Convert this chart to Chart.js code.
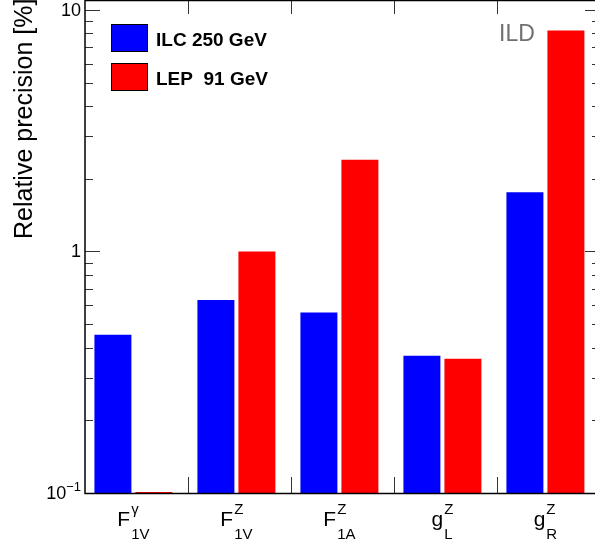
<!DOCTYPE html>
<html>
<head>
<meta charset="utf-8">
<script src="https://cdn.jsdelivr.net/npm/chart.js@4.4.0/dist/chart.umd.min.js"></script>
<style>
  html, body { margin: 0; padding: 0; background: #fff; overflow: hidden; }
  #wrap { width: 595px; height: 545px; overflow: hidden; position: relative; }
  #c { position: absolute; left: 0; top: 0; }
</style>
</head>
<body>
<div id="wrap"><canvas id="c"></canvas></div>
<script>
// category labels: main symbol, superscript, subscript
const labelMain = ['F', 'F', 'F', 'g', 'g'];
const labelSup = ['γ', 'Z', 'Z', 'Z', 'Z'];
const labelSub = ['1V', '1V', '1A', 'L', 'R'];

// relative precision in %
const ilc250 = [0.452, 0.630, 0.559, 0.370, 1.76];
const lep91 = [0.101, 1.0, 2.40, 0.360, 8.22];

const seriesNames = ['ILC 250 GeV', 'LEP  91 GeV'];
const seriesColors = ['#0000ff', '#ff0000'];

const yDecades = [0.1, 1, 10];
const yDecadeLabels = [['10', '−1'], ['1', ''], ['10', '']];

const FONT = '"Liberation Sans", Arial, Helvetica, sans-serif';

const rootStyle = {
  id: 'rootStyle',
  afterDatasetsDraw(chart) {
    const ctx = chart.ctx;
    const ca = chart.chartArea;
    const xs = chart.scales.x, ys = chart.scales.y;
    ctx.save();

    // y ticks (left and right, pointing inward)
    ctx.strokeStyle = '#333';
    ctx.lineWidth = 1;
    ctx.beginPath();
    yDecades.forEach(d => {
      for (let k = 1; k <= 9; k++) {
        const v = d * k;
        if (v > ys.max) break;
        const y = Math.round(ys.getPixelForValue(v)) + 0.5;
        const len = k === 1 ? 15 : 8;
        ctx.moveTo(ca.left, y); ctx.lineTo(ca.left + len, y);
        ctx.moveTo(ca.right, y); ctx.lineTo(ca.right - len, y);
      }
    });
    // x ticks at bin edges (bottom and top)
    for (let i = 0; i < labelMain.length - 1; i++) {
      const x = Math.round(xs.getPixelForValue(i + 0.53)) + 0.5;
      ctx.moveTo(x, ca.bottom); ctx.lineTo(x, ca.bottom - 16);
      ctx.moveTo(x, ca.top); ctx.lineTo(x, ca.top + 14);
    }
    ctx.stroke();

    // frame
    ctx.strokeStyle = '#000';
    ctx.lineWidth = 1.5;
    ctx.strokeRect(ca.left, ca.top + 0.5, ca.right - ca.left, ca.bottom - ca.top);

    // y tick labels
    ctx.fillStyle = '#000';
    ctx.textBaseline = 'middle';
    ctx.textAlign = 'right';
    yDecades.forEach((d, i) => {
      const y = ys.getPixelForValue(d);
      const [base, exp] = yDecadeLabels[i];
      let right = ca.left - 4;
      if (exp) {
        ctx.font = '13px ' + FONT;
        ctx.fillText(exp, right, y - 6);
        right -= ctx.measureText(exp).width;
      }
      ctx.font = '18px ' + FONT;
      ctx.fillText(base, right, y + 1);
    });

    // x category labels with super/subscripts
    ctx.textAlign = 'left';
    ctx.textBaseline = 'alphabetic';
    labelMain.forEach((m, i) => {
      ctx.font = '21px ' + FONT;
      const wm = ctx.measureText(m).width;
      ctx.font = '15px ' + FONT;
      const ws = Math.max(ctx.measureText(labelSup[i]).width, ctx.measureText(labelSub[i]).width);
      const cx = xs.getPixelForValue(i);
      const x0 = cx - (wm + 1 + ws) / 2;
      ctx.font = '21px ' + FONT;
      ctx.fillText(m, x0, 526);
      ctx.font = '15px ' + FONT;
      ctx.fillText(labelSup[i], x0 + wm + 1, 514);
      ctx.fillText(labelSub[i], x0 + wm + 1, 539);
    });

    // legend
    chart.data.datasets.forEach((ds, i) => {
      const top = 24 + i * 39;
      ctx.fillStyle = ds.backgroundColor;
      ctx.fillRect(111, top, 37, 27);
      ctx.strokeStyle = '#000';
      ctx.lineWidth = 1;
      ctx.strokeRect(111.5, top + 0.5, 36, 27);
      ctx.fillStyle = '#000';
      ctx.font = 'bold 19px ' + FONT;
      ctx.fillText(ds.label, 156, top + 22);
    });

    // ILD tag
    ctx.fillStyle = '#707070';
    ctx.font = '23px ' + FONT;
    ctx.fillText('ILD', 499, 41);

    // y axis title
    ctx.save();
    ctx.translate(32, 239);
    ctx.rotate(-Math.PI / 2);
    ctx.fillStyle = '#000';
    ctx.font = '25px ' + FONT;
    ctx.fillText('Relative precision [%]', 0, 0);
    ctx.restore();

    ctx.restore();
  }
};

const canvas = document.getElementById('c');
canvas.width = 620;
canvas.height = 545;
canvas.style.width = '620px';
canvas.style.height = '545px';

new Chart(canvas, {
  type: 'bar',
  data: {
    datasets: [ilc250, lep91].map((vals, s) => ({
      label: seriesNames[s],
      data: vals.map((v, i) => ({ x: i, y: v })),
      backgroundColor: seriesColors[s],
      borderWidth: 0,
      categoryPercentage: 0.796,
      barPercentage: 0.902
    }))
  },
  options: {
    responsive: false,
    animation: false,
    events: [],
    layout: { padding: { left: 85, right: 20, top: 0, bottom: 52 } },
    plugins: { legend: { display: false }, tooltip: { enabled: false } },
    scales: {
      x: {
        type: 'linear', min: -0.47, max: 4.53, offset: false, display: false,
        // one tick per category so the bar width follows the category spacing
        afterBuildTicks: scale => { scale.ticks = labelMain.map((_, i) => ({ value: i })); }
      },
      y: { type: 'logarithmic', min: 0.1, max: 11, display: false }
    }
  },
  plugins: [rootStyle]
});
</script>
</body>
</html>
